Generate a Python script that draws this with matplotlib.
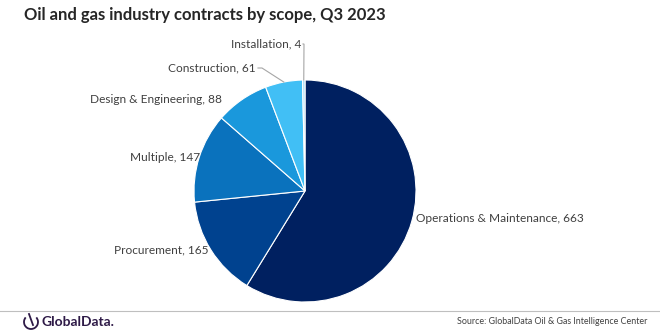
import numpy as np
import matplotlib
matplotlib.use("Agg")
import matplotlib.pyplot as plt
from matplotlib.patches import Arc

categories = ["Operations & Maintenance", "Procurement", "Multiple",
              "Design & Engineering", "Construction", "Installation"]
values = [663, 165, 147, 88, 61, 4]
colors = ["#002060", "#00428F", "#0A72BD", "#1A98DC", "#41BFF5", "#A9DDF5"]

# label anchor positions in figure pixels (x, y from top)
label_pos = [(416, 218), (209, 250), (200, 157), (222, 100), (256, 68), (301, 44)]
label_ha = ["left", "right", "right", "right", "right", "right"]

W, H = 660, 330
plt.rcParams["font.family"] = ["Lato", "DejaVu Sans"]
fig = plt.figure(figsize=(6.6, 3.3), dpi=100)

ax = fig.add_axes([194 / W, (H - 302) / H, 222 / W, 222 / H])
wedges, _ = ax.pie(values, colors=colors, startangle=90, counterclock=False,
                   wedgeprops=dict(edgecolor="white", linewidth=0.8))
ax.set_xlim(-1, 1)
ax.set_ylim(-1, 1)
ax.set_aspect("equal")

to_data = ax.transData.inverted()
for i, (w, name, v) in enumerate(zip(wedges, categories, values)):
    x, y = label_pos[i]
    fig.text(x / W, 1 - y / H, f"{name}, {v}", ha=label_ha[i], va="center",
             fontsize=8.6, color="#404040")
    if name in ("Construction", "Installation"):
        ang = np.deg2rad((w.theta1 + w.theta2) / 2)
        px, py = np.cos(ang), np.sin(ang)
        sx, sy = to_data.transform((x + 2, H - y))
        kx, ky = to_data.transform((x + 6 if name == "Construction" else x + 3, H - y))
        ax.plot([sx, kx, px], [sy, ky, py], color="#A6A6A6", lw=0.8,
                clip_on=False, solid_joinstyle="miter")

fig.text(24 / W, 1 - 15 / H, "Oil and gas industry contracts by scope, Q3 2023",
         fontsize=12, fontweight="bold", color="#262626", va="center")

fig.add_artist(plt.Line2D([0, 1], [1 - 311 / H, 1 - 311 / H], color="#BFBFBF", lw=0.8))
# GlobalData power-style logo mark
lx, ly = 31 / W, 1 - 322 / H
fig.add_artist(Arc((lx, ly), 14 / W, 14 / H, theta1=120, theta2=420,
                   color="#2E1A47", lw=1.3, transform=fig.transFigure))
fig.add_artist(plt.Line2D([lx - 2 / W, lx + 2 / W], [ly + 8 / H, ly - 3 / H],
                          color="#2E1A47", lw=1.3))
fig.text(42 / W, ly, "GlobalData.", fontsize=10, color="#2E1A47",
         va="center", fontweight="bold")
fig.text(647 / W, ly, "Source: GlobalData Oil & Gas Intelligence Center",
         fontsize=6.4, color="#404040", ha="right", va="center")

fig.savefig("out.png", dpi=100)
